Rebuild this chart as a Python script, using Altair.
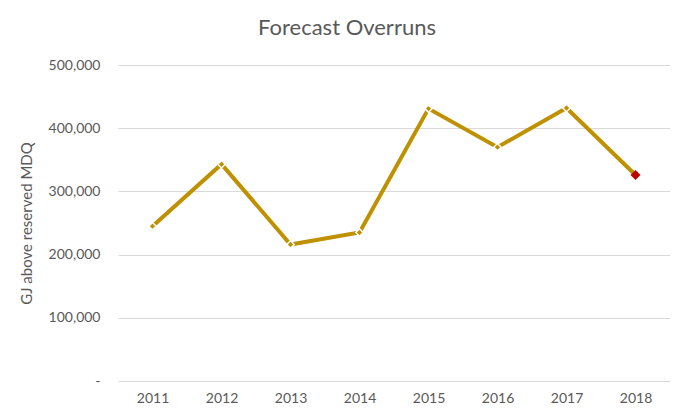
import altair as alt
import pandas as pd

years = ["2011", "2012", "2013", "2014", "2015", "2016", "2017", "2018"]
overruns = [245000, 343000, 216000, 235000, 431000, 370000, 432000, 326000]
highlight = [False, False, False, False, False, False, False, True]

df = pd.DataFrame({"year": years, "value": overruns, "hl": highlight})

FONT = "Lato"
GREY = "#595959"

x = alt.X("year:O", title=None,
          scale=alt.Scale(type="point", padding=0.5),
          axis=alt.Axis(labelAngle=0, labelFontSize=14, labelColor=GREY, labelFont=FONT,
                        domain=False, ticks=False, labelPadding=10, grid=False))
y = alt.Y("value:Q", title="GJ above reserved MDQ",
          scale=alt.Scale(domain=[0, 500000], nice=False),
          axis=alt.Axis(values=[0, 100000, 200000, 300000, 400000, 500000],
                        labelExpr="datum.value == 0 ? '-' : format(datum.value, ',')",
                        labelFontSize=14, labelColor=GREY, labelFont=FONT,
                        titleFontSize=15, titleColor=GREY, titleFont=FONT, titleFontWeight="normal",
                        titlePadding=14, labelPadding=18,
                        domain=False, ticks=False, gridColor="#d9d9d9", gridWidth=1.2))

line = alt.Chart(df).mark_line(color="#BF9000", strokeWidth=4).encode(x=x, y=y)
pts = alt.Chart(df).transform_filter("!datum.hl").mark_point(
    shape="diamond", filled=True, color="#BF9000", size=55, stroke="white", strokeWidth=1.5, opacity=1
).encode(x=x, y=y)
red = alt.Chart(df).transform_filter("datum.hl").mark_point(
    shape="diamond", filled=True, color="#C00000", size=100, opacity=1
).encode(x=x, y=y)

chart = alt.layer(line, pts, red).properties(
    width=552, height=316,
    title=alt.TitleParams("Forecast Overruns", fontSize=22, font=FONT, color=GREY,
                          fontWeight="normal", anchor="middle", dx=-47, offset=18),
    autosize=alt.AutoSizeParams(type="none"),
    padding={"left": 110, "top": 57, "right": 0, "bottom": 30},
).configure_view(stroke=None)

chart.save("out.html", embed_options={"renderer": "svg", "actions": False})
